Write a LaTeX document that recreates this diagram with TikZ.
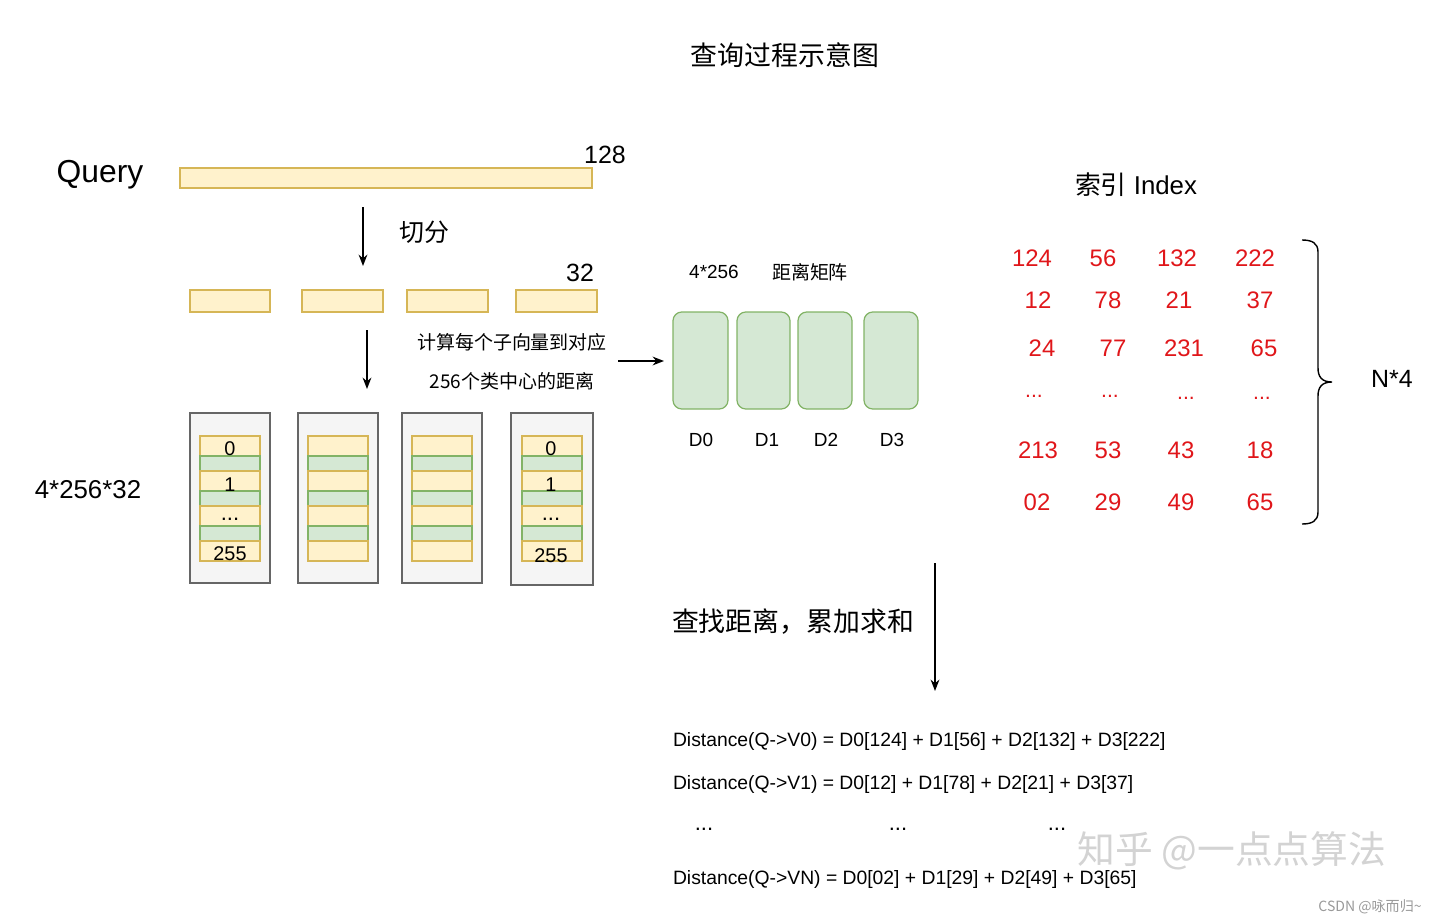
\documentclass[tikz,border=0pt]{standalone}
\usepackage{fontspec}
\setmainfont{Liberation Sans}
\newfontfamily\cjk{Noto Sans CJK SC}
\usetikzlibrary{arrows.meta}
\definecolor{yfill}{HTML}{FFF2CC}
\definecolor{ystroke}{HTML}{D6B656}
\definecolor{gfill}{HTML}{D5E8D4}
\definecolor{gstroke}{HTML}{82B366}
\definecolor{cbfill}{HTML}{F5F5F5}
\definecolor{cbstroke}{HTML}{666666}
\definecolor{idxred}{HTML}{E0161A}
\definecolor{wmgray}{HTML}{C4C4C4}
\newcommand\fsz[1]{\fontsize{#1}{#1}\selectfont}
\begin{document}
\begin{tikzpicture}[x=0.02cm,y=-0.02cm,
  txt/.style={inner sep=0pt, outer sep=0pt, anchor=center},
  dims/.style 2 args={minimum width={#1*0.02cm}, minimum height={#2*0.02cm}, inner sep=0pt, outer sep=0pt},
  ybar/.style={draw=ystroke, fill=yfill, line width=0.6pt},
  gbar/.style={draw=gstroke, fill=gfill, line width=0.6pt},
  cbook/.style={draw=cbstroke, fill=cbfill, line width=0.7pt},
  dmat/.style={draw=gstroke, fill=gfill, line width=0.7pt, rounded corners=5pt},
  arr/.style={-{Stealth[length=6.5pt,width=5pt]}, line width=0.8pt},
  idxnum/.style={txt, text=idxred, font=\fsz{13.6pt}},
  cblab/.style={txt, font=\fsz{11.3pt}},
  mlab/.style={txt, font=\fsz{10.8pt}},
  formula/.style={inner sep=0pt, outer sep=0pt, anchor=west, font=\fsz{11pt}}
]
\useasboundingbox (0,0) rectangle (1440,923);

% title
\node[txt] (title) at (785,55) {\cjk\fsz{15.3pt}查询过程示意图};

% query
\node[txt] (qlab) at (100,175) {\fsz{18.1pt}Query};
\node[ybar, dims={412}{20}] (qbar) at (386,178) {};
\node[txt] (n128) at (605,155) {\fsz{14.2pt}128};

\coordinate (a1s) at (363,207);
\coordinate (a1e) at (363,266);
\draw[arr] (a1s) -- (a1e);
\node[txt] (split) at (424,232) {\cjk\fsz{14.2pt}切分};

% sub vectors
\node[ybar, dims={80}{22}] (s1) at (230,301) {};
\node[ybar, dims={81}{22}] (s2) at (342.5,301) {};
\node[ybar, dims={81}{22}] (s3) at (447.5,301) {};
\node[ybar, dims={81}{22}] (s4) at (556.5,301) {};
\node[txt] (n32) at (580,273) {\fsz{14.2pt}32};

\coordinate (a2s) at (367,330);
\coordinate (a2e) at (367,389);
\draw[arr] (a2s) -- (a2e);
\node[txt] (calc1) at (512,342) {\cjk\fsz{10.8pt}计算每个子向量到对应};
\node[txt] (calc2) at (512,381) {\cjk\fsz{10.8pt}256个类中心的距离};
\coordinate (a3s) at (618,361);
\coordinate (a3e) at (664,361);
\draw[arr] (a3s) -- (a3e);

% codebooks
\node[txt] (cbdim) at (88,490) {\fsz{14.7pt}4*256*32};
\node[cbook, dims={80}{170}] (cb1) at (230,498) {};
\node[cbook, dims={80}{170}] (cb2) at (338,498) {};
\node[cbook, dims={80}{170}] (cb3) at (442,498) {};
\node[cbook, dims={82}{172}] (cb4) at (552,499) {};
\foreach \xl in {200,308,412,522}{
  \draw[ybar] (\xl,436) rectangle ++(60,20);
  \draw[gbar] (\xl,456) rectangle ++(60,15);
  \draw[ybar] (\xl,471) rectangle ++(60,20);
  \draw[gbar] (\xl,491) rectangle ++(60,15);
  \draw[ybar] (\xl,506) rectangle ++(60,20);
  \draw[gbar] (\xl,526) rectangle ++(60,15);
  \draw[ybar] (\xl,541) rectangle ++(60,20);
}
\node[cblab] (c1a) at (230,449) {0};
\node[cblab] (c1b) at (230,485) {1};
\node[cblab, font=\fsz{12.5pt}] (c1c) at (230,519) {...};
\node[cblab] (c1d) at (230,554) {255};
\node[cblab] (c4a) at (551,449) {0};
\node[cblab] (c4b) at (551,485) {1};
\node[cblab, font=\fsz{12.5pt}] (c4c) at (551,519) {...};
\node[cblab] (c4d) at (551,556) {255};

% distance matrix
\node[mlab] (m1) at (714,272) {4*256};
\node[mlab] (m2) at (810,272) {\cjk 距离矩阵};
\node[dmat, dims={55}{97}] (d0) at (700.5,360.5) {};
\node[dmat, dims={53}{97}] (d1) at (763.5,360.5) {};
\node[dmat, dims={54}{97}] (d2) at (825,360.5) {};
\node[dmat, dims={54}{97}] (d3) at (891,360.5) {};
\node[mlab] (l0) at (701,440) {D0};
\node[mlab] (l1) at (767,440) {D1};
\node[mlab] (l2) at (826,440) {D2};
\node[mlab] (l3) at (892,440) {D3};

% index
\node[txt] (idx) at (1136,185) {\fsz{14.7pt}{\cjk 索引} Index};
\node[idxnum] (r1a) at (1032,258) {124};
\node[idxnum] (r1b) at (1103,258) {56};
\node[idxnum] (r1c) at (1177,258) {132};
\node[idxnum] (r1d) at (1255,258) {222};
\node[idxnum] (r2a) at (1038,300) {12};
\node[idxnum] (r2b) at (1108,300) {78};
\node[idxnum] (r2c) at (1179,300) {21};
\node[idxnum] (r2d) at (1260,300) {37};
\node[idxnum] (r3a) at (1042,348) {24};
\node[idxnum] (r3b) at (1113,348) {77};
\node[idxnum] (r3c) at (1184,348) {231};
\node[idxnum] (r3d) at (1264,348) {65};
\node[idxnum, font=\fsz{12pt}] (r4a) at (1034,396) {...};
\node[idxnum, font=\fsz{12pt}] (r4b) at (1110,396) {...};
\node[idxnum, font=\fsz{12pt}] (r4c) at (1186,398) {...};
\node[idxnum, font=\fsz{12pt}] (r4d) at (1262,398) {...};
\node[idxnum] (r5a) at (1038,450) {213};
\node[idxnum] (r5b) at (1108,450) {53};
\node[idxnum] (r5c) at (1181,450) {43};
\node[idxnum] (r5d) at (1260,450) {18};
\node[idxnum] (r6a) at (1037,502) {02};
\node[idxnum] (r6b) at (1108,502) {29};
\node[idxnum] (r6c) at (1181,502) {49};
\node[idxnum] (r6d) at (1260,502) {65};

% brace
\coordinate (brtop) at (1302,240);
\coordinate (brtip) at (1332,382);
\coordinate (brbot) at (1302,524);
\draw[line width=0.8pt] (brtop) .. controls (1312,240) and (1318,243) .. (1318,252) -- (1318,368)
  .. controls (1318,377) and (1322,382) .. (brtip)
  .. controls (1322,382) and (1318,387) .. (1318,396) -- (1318,512)
  .. controls (1318,521) and (1312,524) .. (brbot);
\node[txt] (n4) at (1392,379) {\fsz{14.2pt}N*4};

% lookup
\coordinate (a4s) at (935,563);
\coordinate (a4e) at (935,691);
\draw[arr] (a4s) -- (a4e);
\node[txt] (look) at (793,622) {\cjk\fsz{15.3pt}查找距离，累加求和};

% formulas
\node[formula] (f1) at (673,741) {Distance(Q->V0) = D0[124] + D1[56] + D2[132] + D3[222]};
\node[formula] (f2) at (673,784) {Distance(Q->V1) = D0[12] + D1[78] + D2[21] + D3[37]};
\node[txt, font=\fsz{12.5pt}] (fd1) at (704,829) {...};
\node[txt, font=\fsz{12.5pt}] (fd2) at (898,829) {...};
\node[txt, font=\fsz{12.5pt}] (fd3) at (1057,829) {...};
\node[formula] (f3) at (673,879) {Distance(Q->VN) = D0[02] + D1[29] + D2[49] + D3[65]};

% watermarks
\node[txt, text=wmgray, opacity=0.75] (wm1) at (1232,851) {\cjk\fsz{21.5pt}知乎 @一点点算法};
\node[txt, text=gray!80] (wm2) at (1370,907) {\cjk\fsz{8pt}CSDN @咏而归\textasciitilde};
\end{tikzpicture}
\end{document}
